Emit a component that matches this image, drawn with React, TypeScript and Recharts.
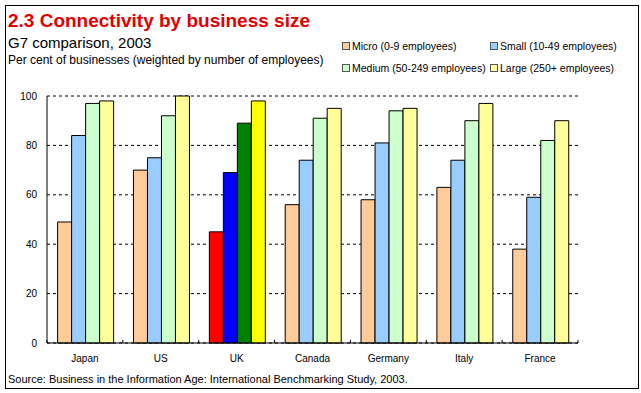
import React from "react";
import { BarChart, Bar, XAxis, YAxis, CartesianGrid, Cell } from "recharts";

const countries = ["Japan", "US", "UK", "Canada", "Germany", "Italy", "France"];
const micro = [49, 70, 45, 56, 58, 63, 38];
const small = [84, 75, 69, 74, 81, 74, 59];
const medium = [97, 92, 89, 91, 94, 90, 82];
const large = [98, 100, 98, 95, 95, 97, 90];
const yTicks = [0, 20, 40, 60, 80, 100];

const seriesKeys = ["micro", "small", "medium", "large"];
const seriesNames = [
  "Micro (0-9 employees)",
  "Small (10-49 employees)",
  "Medium (50-249 employees)",
  "Large (250+ employees)",
];
const seriesColors = ["#FFCC99", "#99CCFF", "#CCFFCC", "#FFFF99"];
const highlightCountry = "UK";
const highlightColors = ["#FF0000", "#0000FF", "#008000", "#FFFF00"];

const data = countries.map((c, i) => ({
  country: c,
  micro: micro[i],
  small: small[i],
  medium: medium[i],
  large: large[i],
}));

const FONT = "'Liberation Sans', Arial, sans-serif";
const X_TICK_SIZE = 6;
const X_TICK_MARGIN = 6;

const XTick = (props: any) => {
  const { x, y, payload, index, visibleTicksCount } = props;
  const off = payload && typeof payload.offset === "number" ? payload.offset : 0;
  const axisY = y - X_TICK_SIZE - X_TICK_MARGIN;
  const isLast = index === (visibleTicksCount ?? countries.length) - 1;
  return (
    <g>
      <line x1={x - off} x2={x - off} y1={axisY} y2={axisY - 3} stroke="#000" />
      {isLast && <line x1={x + off} x2={x + off} y1={axisY} y2={axisY - 3} stroke="#000" />}
      <text x={x} y={y} dy="0.71em" textAnchor="middle" fontSize={10} fontFamily={FONT} fill="#000">
        {payload.value}
      </text>
    </g>
  );
};

const LegendBlock = () => (
  <div style={{ position: "absolute", left: 342, top: 40, width: 290, height: 40, fontFamily: FONT, fontSize: 10.5 }}>
    {seriesNames.map((n, i) => {
      const col = i % 2;
      const row = Math.floor(i / 2);
      return (
        <div
          key={n}
          style={{
            position: "absolute",
            left: col * 148,
            top: row * 22,
            display: "flex",
            alignItems: "center",
            height: 12,
            whiteSpace: "nowrap",
            color: "#000",
          }}
        >
          <span
            style={{
              display: "inline-block",
              width: 6,
              height: 6,
              background: seriesColors[i],
              border: "1px solid #555",
              marginRight: 2,
            }}
          />
          <span>{n}</span>
        </div>
      );
    })}
  </div>
);

export default function App() {
  return (
    <div style={{ position: "absolute", left: 0, top: 0, width: 641, height: 393, background: "#fff" }}>
      <div
        style={{
          position: "absolute",
          left: 5,
          top: 5,
          width: 634,
          height: 384,
          border: "1px solid #000",
          boxSizing: "border-box",
        }}
      />
      <svg width={641} height={393} style={{ position: "absolute", left: 0, top: 0 }}>
        <text x={8} y={27} fontFamily={FONT} fontWeight="bold" fontSize={19} fill="#E00000">
          2.3 Connectivity by business size
        </text>
        <text x={8} y={48} fontFamily={FONT} fontSize={15} fill="#000">
          G7 comparison, 2003
        </text>
        <text x={8} y={63.5} fontFamily={FONT} fontSize={12} fill="#000">
          Per cent of businesses (weighted by number of employees)
        </text>
        <text x={8} y={383} fontFamily={FONT} fontSize={11} fill="#000">
          Source: Business in the Information Age: International Benchmarking Study, 2003.
        </text>
      </svg>
      <LegendBlock />
      <div style={{ position: "absolute", left: 0, top: 0 }}>
        <BarChart
          width={641}
          height={393}
          data={data}
          margin={{ top: 96, right: 63, left: 0, bottom: 0 }}
          barCategoryGap="14%"
          barGap={0}
        >
          <CartesianGrid horizontal vertical={false} stroke="#000" strokeDasharray="3 3" />
          <XAxis
            dataKey="country"
            height={50}
            interval={0}
            axisLine={{ stroke: "#000" }}
            tickLine={false}
            tickSize={X_TICK_SIZE}
            tickMargin={X_TICK_MARGIN}
            tick={<XTick />}
          />
          <YAxis
            width={47}
            domain={[0, 100]}
            ticks={yTicks}
            axisLine={{ stroke: "#000" }}
            tickLine={false}
            tickMargin={4}
            tick={{ fontSize: 10, fontFamily: FONT, fill: "#000" }}
          />
          {seriesKeys.map((k, si) => (
            <Bar
              key={k}
              dataKey={k}
              name={seriesNames[si]}
              fill={seriesColors[si]}
              stroke="#000"
              strokeWidth={1}
              isAnimationActive={false}
            >
              {data.map((d) => (
                <Cell
                  key={d.country}
                  fill={d.country === highlightCountry ? highlightColors[si] : seriesColors[si]}
                />
              ))}
            </Bar>
          ))}
        </BarChart>
      </div>
    </div>
  );
}
